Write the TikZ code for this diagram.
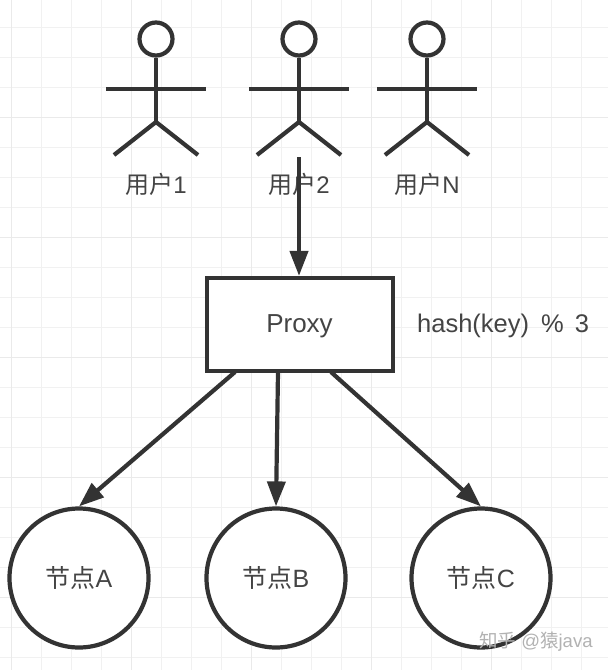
\documentclass[tikz,border=0pt]{standalone}
\usepackage{fontspec}
\setmainfont{Liberation Sans}
\newfontfamily\cjk{Noto Sans CJK SC}[Scale=1]
\usetikzlibrary{arrows.meta}
\definecolor{ink}{HTML}{333333}
\definecolor{textc}{HTML}{444444}
\definecolor{gridminor}{HTML}{F1F1F1}
\definecolor{gridmajor}{HTML}{EAEAEA}
\tikzset{
  x=1pt,y=-1pt,
  lineart/.style={draw=ink,line width=4.2pt},
  head/.style={lineart,circle,minimum size=33pt,inner sep=0pt,fill=white},
  label/.style={text=textc,font=\fontsize{24pt}{28pt}\selectfont,inner sep=0pt},
  nodelabel/.style={label,font=\fontsize{25pt}{28pt}\selectfont},
  box/.style={lineart,fill=white,minimum width=186pt,minimum height=93pt,inner sep=0pt},
  store/.style={lineart,circle,minimum size=139pt,inner sep=0pt,fill=white},
  flow/.style={draw=ink,line width=4.2pt,-{Triangle[length=25pt,width=18pt]},shorten >=0pt},
}
\begin{document}
\begin{tikzpicture}
\useasboundingbox (0,0) rectangle (608,670);
\fill[white] (0,0) rectangle (608,670);
% grid
\foreach \g in {11.5,41.5,...,611}{\draw[gridminor,line width=1.6pt] (\g,0) -- (\g,670);}
\foreach \g in {-2.5,27.5,...,670}{\draw[gridminor,line width=1.6pt] (0,\g) -- (608,\g);}
\foreach \g in {11.5,131.5,...,611}{\draw[gridmajor,line width=1.8pt] (\g,0) -- (\g,670);}
\foreach \g in {117.5,237.5,...,670}{\draw[gridmajor,line width=1.8pt] (0,\g) -- (608,\g);}
% actors
\foreach \n/\cx/\txt/\lx in {a/156/{\cjk 用户}1/156,b/299/{\cjk 用户}2/299,c/427/{\cjk 用户}N/427}{
  \node[head] (head\n) at (\cx,39) {};
  \coordinate (hip\n) at (\cx,122);
  \coordinate (armL\n) at (\cx-50,89);
  \coordinate (armR\n) at (\cx+50,89);
  \coordinate (footL\n) at (\cx-42,155);
  \coordinate (footR\n) at (\cx+42,155);
  \draw[lineart] (head\n) -- (hip\n);
  \draw[lineart] (armL\n) -- (armR\n);
  \draw[lineart] (footL\n) -- (hip\n) -- (footR\n);
  \node[label] (user\n) at (\lx,184.5) {\txt};
}
\node[box] (proxy) at (300,324.5) {};
\node[nodelabel,font=\fontsize{26pt}{28pt}\selectfont] (proxytext) at (299.5,326) {Proxy};
\node[nodelabel,anchor=west,font=\fontsize{25.5pt}{28pt}\selectfont] (hash) at (417,326) {hash(key)\kern5pt\ \%\kern4pt\ 3};
\node[store] (na) at (79,578) {};
\node[store] (nb) at (276,578) {};
\node[store] (nc) at (481,578) {};
\node[nodelabel] (la) at (79,578) {{\cjk 节点}A};
\node[nodelabel] (lb) at (276,578) {{\cjk 节点}B};
\node[nodelabel] (lc) at (481,578) {{\cjk 节点}C};
\coordinate (start) at (299,157);
\draw[flow] (start) -- (proxy.north -| start);
\coordinate (pa) at (235,372);
\coordinate (pb) at (278,372);
\coordinate (pc) at (331,372);
\draw[flow] (pa) -- (na.north);
\draw[flow] (pb) -- (nb.north);
\draw[flow] (pc) -- (nc.north);
\node[text=black!30,font=\fontsize{18.5pt}{20pt}\selectfont,anchor=west,inner sep=0pt] (mark) at (479,642) {{\cjk 知乎} @{\cjk 猿}java};
\end{tikzpicture}
\end{document}
